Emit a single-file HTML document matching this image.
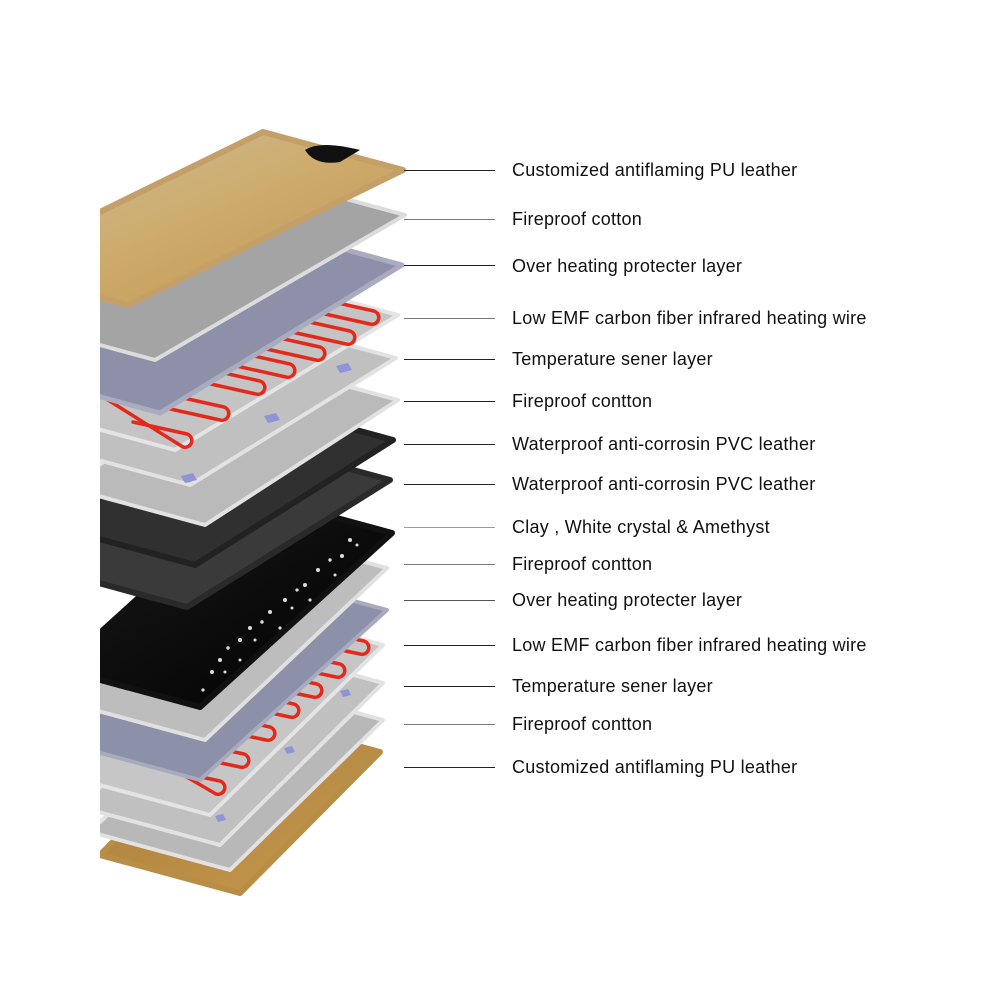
<!DOCTYPE html>
<html><head><meta charset="utf-8"><style>
html,body{margin:0;padding:0;background:#fff}
body{width:1000px;height:994px;position:relative;overflow:hidden;font-family:"Liberation Sans","DejaVu Sans",sans-serif}
.lb{position:absolute;left:512px;font-size:18px;letter-spacing:0.25px;color:#111;line-height:20px;white-space:nowrap}
.ln{position:absolute;left:404px;width:91px;height:1px;background:#222}
</style></head><body>
<svg width="1000" height="994" style="position:absolute;left:0;top:0">
<defs>
<linearGradient id="gold" x1="0" y1="0" x2="1" y2="1"><stop offset="0" stop-color="#cdbf9f"/><stop offset="0.5" stop-color="#cdab6c"/><stop offset="1" stop-color="#c09650"/></linearGradient>
<linearGradient id="gold2" x1="0" y1="0" x2="1" y2="1"><stop offset="0" stop-color="#a87c3a"/><stop offset="1" stop-color="#c7994f"/></linearGradient>
<linearGradient id="blk" x1="0" y1="0" x2="1" y2="1"><stop offset="0" stop-color="#999"/><stop offset="0.35" stop-color="#111"/><stop offset="1" stop-color="#000"/></linearGradient>
<clipPath id="c"><rect x="100" y="0" width="900" height="994"/></clipPath>
</defs>
<g clip-path="url(#c)" stroke-linejoin="round">
<polygon points="380,752 240,893 100,855 240,714" fill="url(#gold2)" stroke="#b88d45" stroke-width="6"/>
<polygon points="383,720 230,870 90,832 243,682" fill="#b8b8b8" stroke="#e2e2e2" stroke-width="4"/>
<polygon points="383,683 220,845 80,807 243,645" fill="#c0c0c0" stroke="#e2e2e2" stroke-width="4"/>
<polygon points="383,645 210,815 70,777 243,607" fill="#c6c6c6" stroke="#e4e4e4" stroke-width="4"/>
<g fill="none" stroke="#e4291c" stroke-width="3.5" stroke-linecap="round">
<path d="M307,629 L364,641 A6.5,6.5 0 0 1 360,654 L303,642"/>
<path d="M283,652 L340,664 A6.5,6.5 0 0 1 336,677 L279,665"/>
<path d="M260,672 L317,684 A6.5,6.5 0 0 1 313,697 L256,685"/>
<path d="M237,692 L294,704 A6.5,6.5 0 0 1 290,717 L233,705"/>
<path d="M213,715 L270,727 A6.5,6.5 0 0 1 266,740 L209,728"/>
<path d="M187,742 L244,754 A6.5,6.5 0 0 1 240,767 L183,755"/>
<path d="M163,769 L220,781 A6.5,6.5 0 0 1 216,794 L120,738"/>
</g>
<polygon points="387,610 200,780 60,742 247,572" fill="#8c90a8" stroke="#a8abbf" stroke-width="4"/>
<polygon points="387,568 205,740 65,702 247,530" fill="#bdbdbd" stroke="#e0e0e0" stroke-width="4"/>
<polygon points="392,533 200,707 60,669 252,495" fill="url(#blk)" stroke="#111" stroke-width="6"/>
<polygon points="390,480 187,607 47,569 250,442" fill="#3a3a3a" stroke="#2a2a2a" stroke-width="6"/>
<polygon points="393,440 195,565 55,527 253,402" fill="#303030" stroke="#222" stroke-width="6"/>
<polygon points="398,400 205,525 65,487 258,362" fill="#bababa" stroke="#e2e2e2" stroke-width="4"/>
<polygon points="396,358 190,485 50,447 256,320" fill="#c0c0c0" stroke="#e2e2e2" stroke-width="4"/>
<polygon points="398,315 175,450 35,412 258,277" fill="#c4c4c4" stroke="#e4e4e4" stroke-width="4"/>
<g fill="none" stroke="#e4291c" stroke-width="3.5" stroke-linecap="round">
<path d="M320,299 L374,311 A6.5,6.5 0 0 1 370,324 L316,312"/>
<path d="M296,319 L350,331 A6.5,6.5 0 0 1 346,344 L292,332"/>
<path d="M266,335 L320,347 A6.5,6.5 0 0 1 316,360 L262,348"/>
<path d="M236,352 L290,364 A6.5,6.5 0 0 1 286,377 L232,365"/>
<path d="M206,369 L260,381 A6.5,6.5 0 0 1 256,394 L202,382"/>
<path d="M170,395 L224,407 A6.5,6.5 0 0 1 220,420 L166,408"/>
<path d="M133,422 L187,434 A6.5,6.5 0 0 1 183,447 L100,395"/>
</g>
<polygon points="402,265 160,413 20,375 262,227" fill="#8d90a8" stroke="#a9acc0" stroke-width="5"/>
<polygon points="405,215 155,360 15,322 265,177" fill="#a4a4a4" stroke="#dcdcdc" stroke-width="4"/>
<polygon points="403,170 128,305 -12,267 263,132" fill="url(#gold)" stroke="#c4a068" stroke-width="6"/>
<path d="M305,150 Q320,140 360,150 L340,162 Q315,166 305,150 Z" fill="#111"/>
<g fill="#8f94d6">
<polygon points="336,366 348,363 352,370 340,373"/>
<polygon points="264,416 276,413 280,420 268,423"/>
<polygon points="181,476 193,473 197,480 185,483"/>
<polygon points="340,691 348,689 351,695 343,697"/>
<polygon points="284,748 292,746 295,752 287,754"/>
<polygon points="215,816 223,814 226,820 218,822"/>
</g>
<g fill="#ddd">
<circle cx="350" cy="540" r="2"/><circle cx="342" cy="556" r="2"/><circle cx="330" cy="560" r="1.7"/><circle cx="318" cy="570" r="2"/><circle cx="305" cy="585" r="2"/><circle cx="297" cy="590" r="1.6"/><circle cx="285" cy="600" r="2"/><circle cx="270" cy="612" r="2"/><circle cx="262" cy="622" r="1.7"/><circle cx="250" cy="628" r="2"/><circle cx="240" cy="640" r="2"/><circle cx="228" cy="648" r="1.7"/><circle cx="220" cy="660" r="2"/><circle cx="212" cy="672" r="2"/><circle cx="225" cy="672" r="1.5"/><circle cx="255" cy="640" r="1.5"/><circle cx="292" cy="608" r="1.5"/><circle cx="310" cy="600" r="1.6"/><circle cx="335" cy="575" r="1.5"/><circle cx="357" cy="545" r="1.5"/><circle cx="280" cy="628" r="1.6"/><circle cx="203" cy="690" r="1.6"/><circle cx="240" cy="660" r="1.5"/>
</g>
</g>
</svg>
<div class="ln" style="top:170px"></div><div class="lb" style="top:160px">Customized antiflaming PU leather</div>
<div class="ln" style="top:219px;background:#777"></div><div class="lb" style="top:209px">Fireproof cotton</div>
<div class="ln" style="top:265px"></div><div class="lb" style="top:256px">Over heating protecter layer</div>
<div class="ln" style="top:318px;background:#777"></div><div class="lb" style="top:308px">Low EMF carbon fiber infrared heating wire</div>
<div class="ln" style="top:359px"></div><div class="lb" style="top:349px">Temperature sener layer</div>
<div class="ln" style="top:401px"></div><div class="lb" style="top:391px">Fireproof contton</div>
<div class="ln" style="top:444px"></div><div class="lb" style="top:434px">Waterproof anti-corrosin PVC leather</div>
<div class="ln" style="top:484px"></div><div class="lb" style="top:474px">Waterproof anti-corrosin PVC leather</div>
<div class="ln" style="top:527px;background:#999"></div><div class="lb" style="top:517px">Clay , White crystal &amp; Amethyst</div>
<div class="ln" style="top:564px;background:#777"></div><div class="lb" style="top:554px">Fireproof contton</div>
<div class="ln" style="top:600px;background:#555"></div><div class="lb" style="top:590px">Over heating protecter layer</div>
<div class="ln" style="top:645px"></div><div class="lb" style="top:635px">Low EMF carbon fiber infrared heating wire</div>
<div class="ln" style="top:686px"></div><div class="lb" style="top:676px">Temperature sener layer</div>
<div class="ln" style="top:724px;background:#777"></div><div class="lb" style="top:714px">Fireproof contton</div>
<div class="ln" style="top:767px"></div><div class="lb" style="top:757px">Customized antiflaming PU leather</div>
</body></html>
